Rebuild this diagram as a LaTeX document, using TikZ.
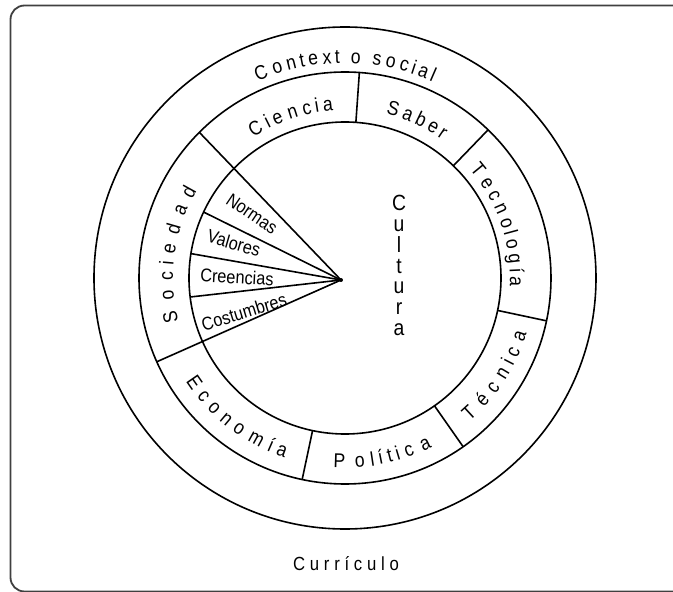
\documentclass[tikz,border=0pt]{standalone}
\usepackage{fontspec}
\setmainfont{Liberation Sans}[FakeStretch=0.88]
\usetikzlibrary{decorations.text}
\begin{document}
\begin{tikzpicture}[x=1pt,y=1pt,
  ring/.style={line width=1.6pt},
  divider/.style={line width=1.6pt},
  arclabel/.style={decorate, decoration={text effects along path, text={#1},
      text effects/.cd, text along path, fit text to path}},
  fanlabel/.style={font=\fontsize{18.5}{18.5}\selectfont, inner sep=0pt},
  execute at begin picture={\fontsize{20}{20}\selectfont}
]
\useasboundingbox (-345,-314) rectangle (328,278);
% frame
\draw[line width=1.8pt, black!75, rounded corners=14pt] (-334.5,272.5) rectangle (360,-313.5);
% circles
\coordinate (C) at (0,0);
\draw[ring] (C) circle[radius=251pt];
\draw[ring] (C) circle[radius=206pt];
\draw[ring] (C) circle[radius=156pt];
% radial dividers of the middle ring
\foreach \a [count=\i] in {86,46,-12,-55,258}{
  \coordinate (di\i) at (\a:156pt);
  \coordinate (do\i) at (\a:206pt);
  \draw[divider] (di\i) -- (do\i);
}
% fan
\coordinate (A) at (-4,-2);
\coordinate (Ftop) at (135:206pt);
\coordinate (Fbot) at (204:206pt);
\coordinate (F1) at (155:156pt);
\coordinate (F2) at (171:156pt);
\coordinate (F3) at (187:156pt);
\draw[divider] (A) -- (Ftop);
\draw[divider] (A) -- (Fbot);
\draw[divider] (A) -- (F1);
\draw[divider] (A) -- (F2);
\draw[divider] (A) -- (F3);
\fill (A) circle[radius=2pt];
% arc labels (clockwise, tops outward)
\path[arclabel={Context o social}] (114:215pt) arc[start angle=114, end angle=66, radius=215pt];
\path[arclabel={Ciencia}] (123:168pt) arc[start angle=123, end angle=94, radius=168pt];
\path[arclabel={Saber}] (76:169pt) arc[start angle=76, end angle=55, radius=169pt];
\path[arclabel={Tecnología}] (41:165pt) arc[start angle=41, end angle=-3, radius=165pt];
\path[arclabel={Sociedad}] (194.5:172pt) arc[start angle=194.5, end angle=149.5, radius=172pt];
% arc labels (counter-clockwise, tops inward)
\path[arclabel={Economía}] (213:190pt) arc[start angle=213, end angle=251.5, radius=190pt];
\path[arclabel={Política}] (266.5:190pt) arc[start angle=266.5, end angle=297.3, radius=190pt];
\path[arclabel={Técnica}] (311:190pt) arc[start angle=311, end angle=343, radius=190pt];
% fan labels
\node[fanlabel, rotate=-34] (normas) at (-93,64) {Normas};
\node[fanlabel, rotate=-16] (valores) at (-111,35) {Valores};
\node[fanlabel, rotate=-3] (creencias) at (-108,1) {Creencias};
\node[fanlabel, rotate=17] (costumbres) at (-101,-34) {Costumbres};
% centre and bottom
\node[align=center, font=\fontsize{22}{20.7}\selectfont, inner sep=0pt] (cultura) at (54,12.5) {C\\u\\l\\t\\u\\r\\a};
\node[font=\fontsize{19}{19}\selectfont\addfontfeatures{LetterSpace=25}, inner sep=0pt] (curriculo) at (1,-286) {Currículo};
\end{tikzpicture}
\end{document}
